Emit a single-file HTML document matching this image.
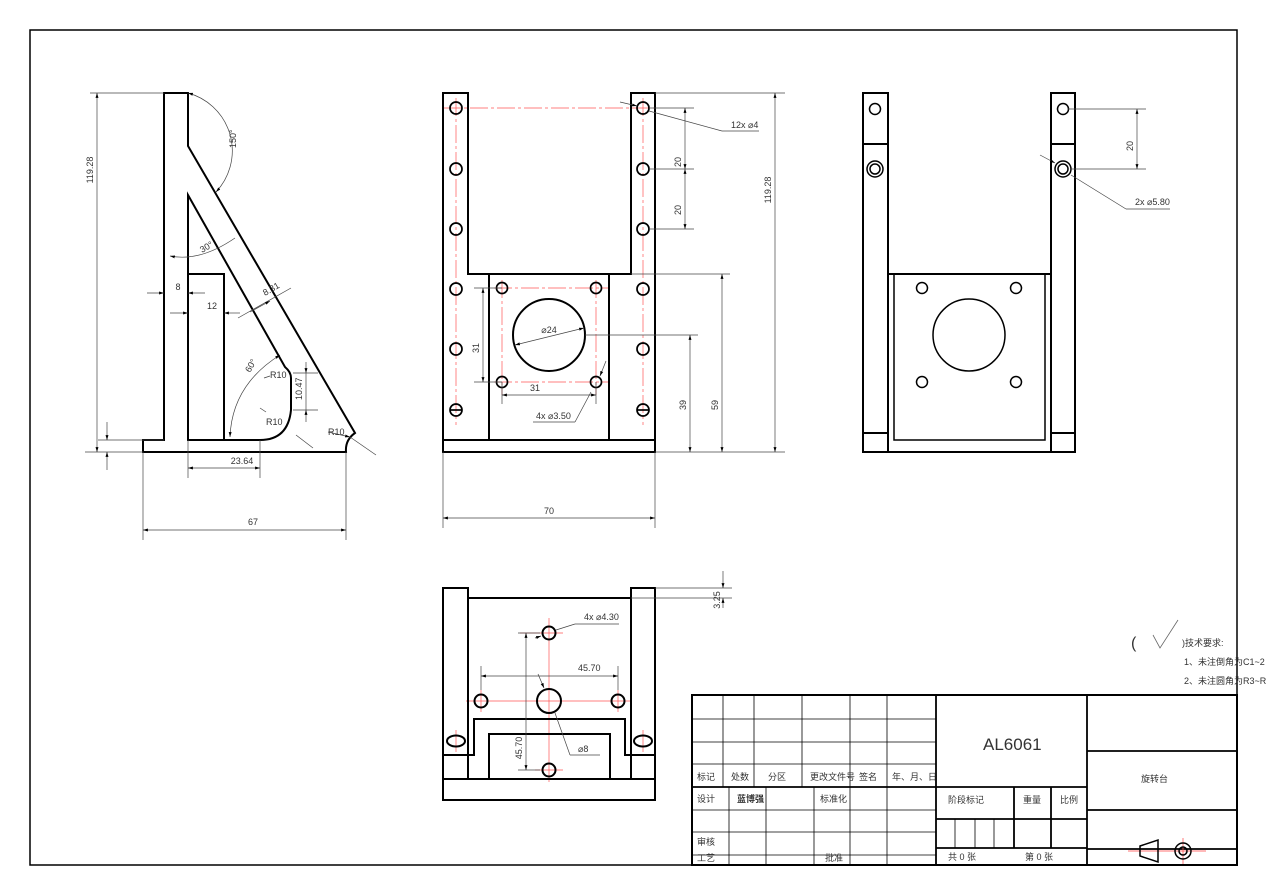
<!DOCTYPE html>
<html><head><meta charset="utf-8">
<style>
html,body{margin:0;padding:0;background:#fff;}
svg{display:block;}
text{font-family:"Liberation Sans","Noto Sans CJK SC",sans-serif;fill:#333;}
</style></head>
<body>
<svg width="1266" height="895" viewBox="0 0 1266 895" xmlns="http://www.w3.org/2000/svg">
<defs>
<marker id="a" viewBox="0 0 10 10" refX="10" refY="5" markerWidth="7" markerHeight="7" orient="auto-start-reverse"><path d="M0,2 L10,5 L0,8 z" fill="#000"/></marker>
</defs>
<rect x="0" y="0" width="1266" height="895" fill="#fff"/>
<rect x="30" y="30" width="1207" height="835" fill="none" stroke="#000" stroke-width="1.5"/>

<!-- ===== SIDE VIEW ===== -->
<g fill="none" stroke="#000" stroke-width="2">
<path d="M164,93 L188,93 L188,146 L355,433 Q345,440 346,452 L143,452 L143,440 L164,440 Z"/>
<path d="M188,195 L285,367 Q291,372 291,378 L291,410 Q288,440 260,440 L188,440 Z"/>
<path d="M188,274 L224,274 L224,440"/>
</g>
<g fill="none" stroke="#444" stroke-width="0.7">
<line x1="90" y1="93" x2="164" y2="93"/><line x1="85" y1="452" x2="143" y2="452"/>
<line x1="97" y1="93" x2="97" y2="452" marker-start="url(#a)" marker-end="url(#a)"/>
<line x1="98" y1="440" x2="164" y2="440"/>
<line x1="107" y1="422" x2="107" y2="440" marker-end="url(#a)"/><line x1="107" y1="470" x2="107" y2="452" marker-end="url(#a)"/>
<line x1="147" y1="293" x2="164" y2="293" marker-end="url(#a)"/><line x1="205" y1="293" x2="188" y2="293" marker-end="url(#a)"/>
<line x1="170" y1="313" x2="188" y2="313" marker-end="url(#a)"/><line x1="240" y1="313" x2="224" y2="313" marker-end="url(#a)"/>
<line x1="188" y1="440" x2="188" y2="478"/><line x1="260" y1="440" x2="260" y2="478"/>
<line x1="188" y1="468" x2="260" y2="468" marker-start="url(#a)" marker-end="url(#a)"/>
<line x1="143" y1="452" x2="143" y2="540"/><line x1="346" y1="452" x2="346" y2="540"/>
<line x1="143" y1="530" x2="346" y2="530" marker-start="url(#a)" marker-end="url(#a)"/>
<line x1="238" y1="318" x2="291" y2="288"/>
<line x1="250" y1="312" x2="270" y2="301" marker-end="url(#a)"/>
<path d="M188,93 A60,60 0 0 1 216,192" marker-start="url(#a)" marker-end="url(#a)"/>
<path d="M170,256 Q200,262 235,238" marker-start="url(#a)"/>
<path d="M230,437 Q232,385 280,355" marker-start="url(#a)" marker-end="url(#a)"/>
<line x1="293" y1="373" x2="318" y2="373"/><line x1="293" y1="410" x2="318" y2="410"/>
<line x1="306" y1="362" x2="306" y2="373" marker-end="url(#a)"/><line x1="306" y1="422" x2="306" y2="410" marker-end="url(#a)"/>
<line x1="306" y1="373" x2="306" y2="410"/>
<line x1="260" y1="408" x2="266" y2="412"/><line x1="296" y1="435" x2="313" y2="448"/>
<line x1="328" y1="432" x2="350" y2="437" marker-end="url(#a)"/><line x1="350" y1="437" x2="376" y2="455"/>
<line x1="264" y1="378" x2="270" y2="376"/>
</g>
<g font-size="9">
<text transform="translate(93,170) rotate(-90)" text-anchor="middle">119.28</text>
<text x="178" y="290" text-anchor="middle">8</text>
<text x="212" y="309" text-anchor="middle">12</text>
<text transform="translate(265,296) rotate(-30)">8.31</text>
<text x="242" y="464" text-anchor="middle">23.64</text>
<text x="253" y="525" text-anchor="middle">67</text>
<text transform="translate(236,148) rotate(-90)">150°</text>
<text transform="translate(202,253) rotate(-30)">30°</text>
<text transform="translate(250,373) rotate(-60)">60°</text>
<text x="270" y="378">R10</text>
<text x="266" y="425">R10</text>
<text x="328" y="435">R10</text>
<text transform="translate(302,400) rotate(-90)">10.47</text>
</g>

<!-- ===== FRONT VIEW ===== -->
<g stroke="#f55" stroke-width="0.7" fill="none" stroke-dasharray="18,3,3,3">
<line x1="443" y1="108" x2="655" y2="108"/>
<line x1="456" y1="98" x2="456" y2="425"/><line x1="643" y1="98" x2="643" y2="425"/>
<line x1="502" y1="280" x2="502" y2="395"/><line x1="596" y1="280" x2="596" y2="395"/>
<line x1="494" y1="288" x2="608" y2="288"/><line x1="494" y1="382" x2="608" y2="382"/>
</g>
<g fill="none" stroke="#000" stroke-width="2">
<path d="M443,93 L468,93 L468,274 L631,274 L631,93 L655,93 L655,440 L443,440 Z"/>
<rect x="443" y="440" width="212" height="12"/>
<path d="M489,274 L489,440 M609,274 L609,440"/>
<circle cx="549" cy="335" r="36"/>
</g>
<g fill="none" stroke="#000" stroke-width="1.7">
<circle cx="456" cy="108" r="6"/><circle cx="456" cy="169" r="6"/><circle cx="456" cy="229" r="6"/><circle cx="456" cy="289" r="6"/><circle cx="456" cy="349" r="6"/><circle cx="456" cy="410" r="6"/>
<circle cx="643" cy="108" r="6"/><circle cx="643" cy="169" r="6"/><circle cx="643" cy="229" r="6"/><circle cx="643" cy="289" r="6"/><circle cx="643" cy="349" r="6"/><circle cx="643" cy="410" r="6"/>
<line x1="450" y1="410" x2="462" y2="410"/><line x1="637" y1="410" x2="649" y2="410"/>
<circle cx="502" cy="288" r="5.5"/><circle cx="596" cy="288" r="5.5"/><circle cx="502" cy="382" r="5.5"/><circle cx="596" cy="382" r="5.5"/>
</g>
<g fill="none" stroke="#444" stroke-width="0.7">
<line x1="655" y1="93" x2="785" y2="93"/><line x1="655" y1="452" x2="785" y2="452"/>
<line x1="775" y1="93" x2="775" y2="452" marker-start="url(#a)" marker-end="url(#a)"/>
<line x1="631" y1="274" x2="730" y2="274"/>
<line x1="722" y1="274" x2="722" y2="452" marker-start="url(#a)" marker-end="url(#a)"/>
<line x1="585" y1="335" x2="698" y2="335"/>
<line x1="690" y1="335" x2="690" y2="452" marker-start="url(#a)" marker-end="url(#a)"/>
<line x1="649" y1="108" x2="694" y2="108"/><line x1="649" y1="169" x2="694" y2="169"/><line x1="649" y1="229" x2="694" y2="229"/>
<line x1="685" y1="108" x2="685" y2="169" marker-start="url(#a)" marker-end="url(#a)"/>
<line x1="685" y1="169" x2="685" y2="229" marker-start="url(#a)" marker-end="url(#a)"/>
<line x1="474" y1="288" x2="502" y2="288"/><line x1="474" y1="382" x2="502" y2="382"/>
<line x1="483" y1="288" x2="483" y2="382" marker-start="url(#a)" marker-end="url(#a)"/>
<line x1="502" y1="382" x2="502" y2="404"/><line x1="596" y1="382" x2="596" y2="404"/>
<line x1="502" y1="395" x2="596" y2="395" marker-start="url(#a)" marker-end="url(#a)"/>
<line x1="443" y1="452" x2="443" y2="528"/><line x1="655" y1="452" x2="655" y2="528"/>
<line x1="443" y1="518" x2="655" y2="518" marker-start="url(#a)" marker-end="url(#a)"/>
<line x1="515" y1="345" x2="584" y2="328" marker-start="url(#a)" marker-end="url(#a)"/>
<line x1="620" y1="102" x2="637" y2="106" marker-end="url(#a)"/>
<line x1="649" y1="111" x2="722" y2="131"/><line x1="722" y1="131" x2="759" y2="131"/>
<line x1="533" y1="422" x2="575" y2="422"/><line x1="575" y1="422" x2="591" y2="392"/>
<line x1="606" y1="361" x2="600" y2="376" marker-end="url(#a)"/>
</g>
<g font-size="9">
<text transform="translate(771,190) rotate(-90)" text-anchor="middle">119.28</text>
<text transform="translate(718,405) rotate(-90)" text-anchor="middle">59</text>
<text transform="translate(686,405) rotate(-90)" text-anchor="middle">39</text>
<text transform="translate(681,162) rotate(-90)" text-anchor="middle">20</text>
<text transform="translate(681,210) rotate(-90)" text-anchor="middle">20</text>
<text transform="translate(479,348) rotate(-90)" text-anchor="middle">31</text>
<text x="535" y="391" text-anchor="middle">31</text>
<text x="549" y="333" text-anchor="middle">⌀24</text>
<text x="536" y="419">4x ⌀3.50</text>
<text x="731" y="128">12x ⌀4</text>
<text x="549" y="514" text-anchor="middle">70</text>
</g>

<!-- ===== RIGHT VIEW ===== -->
<g fill="none" stroke="#000" stroke-width="2">
<rect x="863" y="93" width="25" height="359"/><rect x="1051" y="93" width="24" height="359"/>
<path d="M863,144 L888,144 M1051,144 L1075,144 M863,433 L888,433 M1051,433 L1075,433"/>
<path d="M888,274 L1051,274 M888,452 L1051,452"/>
<path d="M894,274 L894,440 L1045,440 L1045,274" stroke-width="1.5"/>
<circle cx="969" cy="335" r="36" stroke-width="1.5"/>
</g>
<g fill="none" stroke="#000" stroke-width="1.5">
<circle cx="875" cy="109" r="5.5"/><circle cx="1063" cy="109" r="5.5"/>
<circle cx="875" cy="169" r="8"/><circle cx="875" cy="169" r="5"/>
<circle cx="1063" cy="169" r="8"/><circle cx="1063" cy="169" r="5"/>
<circle cx="922" cy="288" r="5.5"/><circle cx="1016" cy="288" r="5.5"/><circle cx="922" cy="382" r="5.5"/><circle cx="1016" cy="382" r="5.5"/>
</g>
<g fill="none" stroke="#444" stroke-width="0.7">
<line x1="1068" y1="109" x2="1146" y2="109"/><line x1="1071" y1="169" x2="1146" y2="169"/>
<line x1="1137" y1="109" x2="1137" y2="169" marker-start="url(#a)" marker-end="url(#a)"/>
<line x1="1040" y1="155" x2="1055" y2="163" marker-end="url(#a)"/>
<line x1="1071" y1="175" x2="1126" y2="209"/><line x1="1126" y1="209" x2="1170" y2="209"/>
</g>
<g font-size="9">
<text transform="translate(1133,146) rotate(-90)" text-anchor="middle">20</text>
<text x="1135" y="205">2x ⌀5.80</text>
</g>

<!-- ===== TOP VIEW ===== -->
<g stroke="#f55" stroke-width="0.7" fill="none">
<line x1="520" y1="633" x2="563" y2="633"/><line x1="466" y1="701" x2="632" y2="701"/>
<line x1="549" y1="618" x2="549" y2="782"/><line x1="535" y1="770" x2="563" y2="770"/>
<line x1="481" y1="690" x2="481" y2="712"/><line x1="618" y1="690" x2="618" y2="712"/>
<line x1="456" y1="730" x2="456" y2="752"/><line x1="643" y1="730" x2="643" y2="752"/>
</g>
<g fill="none" stroke="#000" stroke-width="2">
<rect x="443" y="588" width="25" height="191"/><rect x="631" y="588" width="24" height="191"/>
<line x1="468" y1="598" x2="631" y2="598"/>
<rect x="443" y="779" width="212" height="21"/>
<path d="M443,755 L468,755 M631,755 L655,755"/>
<path d="M468,755 L474,755 L474,719 L625,719 L625,755 L631,755"/>
<path d="M468,779 L489,779 L489,734 L610,734 L610,779 L631,779"/>
<circle cx="549" cy="633" r="6.5"/><circle cx="481" cy="701" r="6.5"/><circle cx="618" cy="701" r="6.5"/>
<circle cx="549" cy="701" r="12"/><circle cx="549" cy="770" r="6.5"/>
<ellipse cx="456" cy="741" rx="9" ry="5.5"/><ellipse cx="643" cy="741" rx="9" ry="5.5"/>
</g>
<g fill="none" stroke="#444" stroke-width="0.7">
<line x1="655" y1="588" x2="732" y2="588"/><line x1="631" y1="598" x2="732" y2="598"/>
<line x1="723" y1="571" x2="723" y2="588" marker-end="url(#a)"/><line x1="723" y1="608" x2="723" y2="598" marker-end="url(#a)"/>
<line x1="518" y1="633" x2="540" y2="633"/>
<line x1="526" y1="633" x2="526" y2="770" marker-start="url(#a)" marker-end="url(#a)"/>
<line x1="518" y1="770" x2="540" y2="770"/>
<line x1="481" y1="666" x2="481" y2="690"/><line x1="618" y1="666" x2="618" y2="690"/>
<line x1="481" y1="676" x2="618" y2="676" marker-start="url(#a)" marker-end="url(#a)"/>
<line x1="535" y1="638" x2="541" y2="636" marker-end="url(#a)"/>
<line x1="556" y1="630" x2="575" y2="624"/><line x1="575" y1="624" x2="619" y2="624"/>
<line x1="538" y1="674" x2="544" y2="688" marker-end="url(#a)"/>
<line x1="555" y1="713" x2="570" y2="755"/><line x1="570" y1="755" x2="600" y2="755"/>
</g>
<g font-size="9">
<text transform="translate(720,600) rotate(-90)" text-anchor="middle">3.25</text>
<text x="584" y="620">4x ⌀4.30</text>
<text x="578" y="671">45.70</text>
<text transform="translate(522,748) rotate(-90)" text-anchor="middle">45.70</text>
<text x="578" y="752">⌀8</text>
</g>

<!-- ===== TECH NOTE ===== -->
<text x="1131" y="648" font-size="16" fill="#000">(</text>
<path d="M1153,635 L1160,648 L1178,620" fill="none" stroke="#666" stroke-width="0.8"/>
<text x="1182" y="646" font-size="9">)技术要求:</text>
<text x="1184" y="665" font-size="9" fill="#557">1、未注倒角为C1~2</text>
<text x="1184" y="684" font-size="9" fill="#557">2、未注圆角为R3~R5</text>

<!-- ===== TITLE BLOCK ===== -->
<rect x="692" y="695" width="545" height="170" fill="#fff" stroke="#000" stroke-width="2"/>
<g stroke="#000" stroke-width="0.8" fill="none">
<line x1="692" y1="719" x2="936" y2="719"/><line x1="692" y1="742" x2="936" y2="742"/><line x1="692" y1="764" x2="936" y2="764"/>
<line x1="723" y1="695" x2="723" y2="787"/><line x1="754" y1="695" x2="754" y2="787"/><line x1="802" y1="695" x2="802" y2="787"/><line x1="850" y1="695" x2="850" y2="787"/><line x1="887" y1="695" x2="887" y2="787"/>
<line x1="729" y1="787" x2="729" y2="865"/><line x1="766" y1="787" x2="766" y2="865"/><line x1="814" y1="787" x2="814" y2="865"/><line x1="850" y1="787" x2="850" y2="865"/><line x1="887" y1="787" x2="887" y2="865"/>
<line x1="692" y1="810" x2="936" y2="810"/><line x1="692" y1="832" x2="936" y2="832"/><line x1="692" y1="855" x2="936" y2="855"/>
<line x1="955" y1="819" x2="955" y2="848"/><line x1="975" y1="819" x2="975" y2="848"/><line x1="994" y1="819" x2="994" y2="848"/>
</g>
<g stroke="#000" stroke-width="1.8" fill="none">
<line x1="692" y1="787" x2="1087" y2="787"/>
<line x1="936" y1="695" x2="936" y2="865"/><line x1="1087" y1="695" x2="1087" y2="865"/>
<line x1="936" y1="819" x2="1087" y2="819"/><line x1="936" y1="848" x2="1087" y2="848"/>
<line x1="1014" y1="787" x2="1014" y2="848"/><line x1="1051" y1="787" x2="1051" y2="848"/>
<line x1="1087" y1="751" x2="1237" y2="751"/><line x1="1087" y1="810" x2="1237" y2="810"/><line x1="1087" y1="849" x2="1237" y2="849"/>
</g>
<g font-size="9">
<text x="697" y="780">标记</text><text x="731" y="780">处数</text><text x="768" y="780">分区</text><text x="810" y="780">更改文件号</text><text x="859" y="780">签名</text><text x="892" y="780">年、月、日</text>
<text x="697" y="802">设计</text><text x="737" y="802" font-weight="bold">蓝博强</text><text x="820" y="802">标准化</text>
<text x="697" y="845">审核</text><text x="697" y="861">工艺</text><text x="825" y="861">批准</text>
<text x="948" y="803">阶段标记</text><text x="1023" y="803">重量</text><text x="1060" y="803">比例</text>
<text x="948" y="860">共 0 张</text><text x="1025" y="860">第 0 张</text>
<text x="1141" y="782">旋转台</text>
</g>
<text x="983" y="750" font-size="17" fill="#222">AL6061</text>
<g fill="none">
<line x1="1128" y1="851" x2="1206" y2="851" stroke="#f44" stroke-width="0.7"/>
<line x1="1183" y1="838" x2="1183" y2="864" stroke="#f44" stroke-width="0.7"/>
<path d="M1140,846 L1158,840 L1158,862 L1140,856 Z" stroke="#000" stroke-width="1.5"/>
<circle cx="1183" cy="851" r="8" stroke="#000" stroke-width="1.5"/><circle cx="1183" cy="851" r="4" stroke="#000" stroke-width="1.5"/>
</g>
</svg>
</body></html>
